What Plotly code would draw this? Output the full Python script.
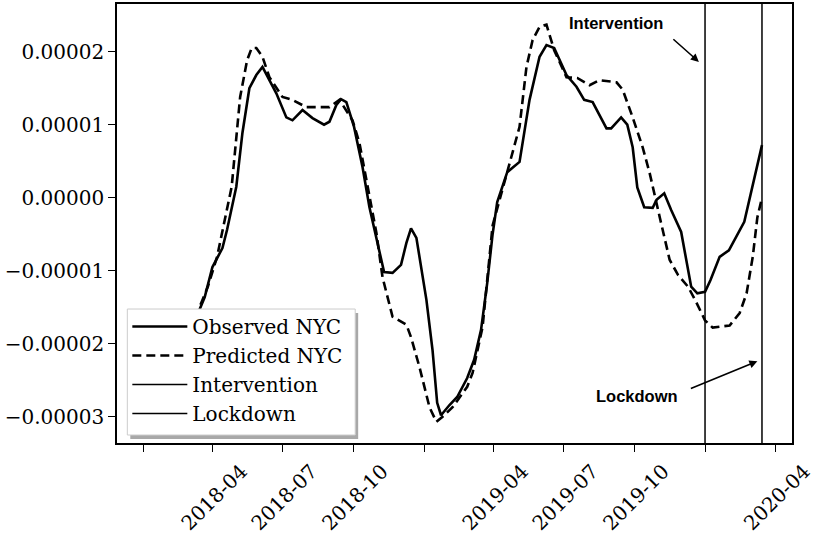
import numpy as np
import plotly.graph_objects as go

# values, in units of 1e-5
obs_dates = ["2018-02-24", "2018-03-22", "2018-04-01", "2018-04-14", "2018-04-20", "2018-05-02",
             "2018-05-10", "2018-05-19", "2018-05-28", "2018-06-05", "2018-06-23", "2018-07-06",
             "2018-07-14", "2018-07-27", "2018-08-09", "2018-08-24", "2018-08-31", "2018-09-09",
             "2018-09-15", "2018-09-22", "2018-10-02", "2018-10-13", "2018-10-22", "2018-10-31",
             "2018-11-10", "2018-11-21", "2018-12-02", "2018-12-09", "2018-12-15", "2018-12-22",
             "2019-01-04", "2019-01-12", "2019-01-18", "2019-01-23", "2019-02-03", "2019-02-13",
             "2019-02-26", "2019-03-07", "2019-03-16", "2019-03-24", "2019-03-31", "2019-04-06",
             "2019-04-19", "2019-05-05", "2019-05-18", "2019-05-31", "2019-06-09", "2019-06-19",
             "2019-07-05", "2019-07-18", "2019-07-28", "2019-08-08", "2019-08-26", "2019-09-01",
             "2019-09-14", "2019-09-22", "2019-09-29", "2019-10-05", "2019-10-14", "2019-10-25",
             "2019-10-30", "2019-11-09", "2019-11-18", "2019-12-01", "2019-12-14", "2019-12-22",
             "2020-01-01", "2020-01-08", "2020-01-20", "2020-02-01", "2020-02-21", "2020-03-15"]
obs_vals = [-2.02, -1.36, -0.95, -0.69, -0.44, 0.15,
            0.89, 1.50, 1.68, 1.79, 1.43, 1.10,
            1.06, 1.20, 1.09, 1.00, 1.04, 1.27,
            1.35, 1.31, 0.97, 0.42, -0.13, -0.54,
            -1.02, -1.03, -0.92, -0.62, -0.42, -0.55,
            -1.40, -2.09, -2.81, -2.98, -2.84, -2.73,
            -2.47, -2.22, -1.81, -1.17, -0.50, -0.06,
            0.35, 0.49, 1.34, 1.93, 2.09, 2.05,
            1.68, 1.52, 1.34, 1.31, 0.95, 0.95,
            1.10, 1.00, 0.69, 0.14, -0.13, -0.14,
            -0.03, 0.06, -0.17, -0.47, -1.22, -1.31,
            -1.29, -1.13, -0.81, -0.72, -0.33, 0.72]

pred_dates = ["2018-02-24", "2018-03-26", "2018-04-07", "2018-04-26", "2018-05-07", "2018-05-16",
              "2018-05-22", "2018-05-28", "2018-06-05", "2018-06-14", "2018-07-01", "2018-07-14",
              "2018-08-01", "2018-08-19", "2018-08-31", "2018-09-13", "2018-09-30", "2018-10-09",
              "2018-10-18", "2018-10-31", "2018-11-08", "2018-11-21", "2018-12-09", "2018-12-15",
              "2018-12-26", "2019-01-08", "2019-01-17", "2019-01-25", "2019-02-07", "2019-02-26",
              "2019-03-05", "2019-03-18", "2019-03-31", "2019-04-19", "2019-05-05", "2019-05-14",
              "2019-05-22", "2019-05-31", "2019-06-09", "2019-06-19", "2019-07-05", "2019-07-19",
              "2019-08-04", "2019-08-17", "2019-09-08", "2019-09-16", "2019-09-29", "2019-10-12",
              "2019-10-21", "2019-11-03", "2019-11-16", "2019-11-27", "2019-12-10", "2019-12-21",
              "2020-01-01", "2020-01-11", "2020-02-02", "2020-02-15", "2020-02-24", "2020-03-03",
              "2020-03-09", "2020-03-15"]
pred_vals = [-2.00, -1.22, -0.81, 0.15, 1.38, 1.88,
             2.05, 2.05, 1.93, 1.65, 1.38, 1.34,
             1.24, 1.24, 1.24, 1.34, 1.06, 0.75,
             0.24, -0.48, -1.09, -1.63, -1.74, -1.91,
             -2.32, -2.87, -3.07, -3.00, -2.87, -2.59,
             -2.40, -1.77, -0.38, 0.35, 0.97, 1.79,
             2.16, 2.34, 2.37, 2.02, 1.65, 1.64,
             1.54, 1.61, 1.58, 1.48, 1.10, 0.69,
             0.34, -0.26, -0.85, -1.06, -1.22, -1.44,
             -1.68, -1.78, -1.75, -1.58, -1.31, -0.81,
             -0.27, 0.00]

intervention_date = "2020-01-01"
lockdown_date = "2020-03-15"

x_tickvals = ["2018-01-01", "2018-04-01", "2018-07-01", "2018-10-01", "2019-01-01", "2019-04-01",
              "2019-07-01", "2019-10-01", "2020-01-01", "2020-04-01"]
x_ticktext = ["", "2018-04", "2018-07", "2018-10", "", "2019-04", "2019-07", "2019-10", "", "2020-04"]
y_tickvals = [-3e-5, -2e-5, -1e-5, 0, 1e-5, 2e-5]
y_ticktext = ["\u22120.00003", "\u22120.00002", "\u22120.00001", "0.00000", "0.00001", "0.00002"]

x_range = ["2017-11-28", "2020-04-23"]
y_range = [-3.36e-5, 2.653e-5]

scale = 1e-5
serif = "DejaVu Serif"

fig = go.Figure()
fig.add_trace(go.Scatter(x=obs_dates, y=np.array(obs_vals) * scale, mode="lines",
                         name="Observed NYC", legendgroup="a",
                         line=dict(color="black", width=2.6)))
fig.add_trace(go.Scatter(x=pred_dates, y=np.array(pred_vals) * scale, mode="lines",
                         name="Predicted NYC", legendgroup="b",
                         line=dict(color="black", width=2.6, dash="9px,5px")))
fig.add_trace(go.Scatter(x=[intervention_date, intervention_date], y=y_range, mode="lines",
                         name="Intervention", legendgroup="c",
                         line=dict(color="black", width=1.5)))
fig.add_trace(go.Scatter(x=[lockdown_date, lockdown_date], y=y_range, mode="lines",
                         name="Lockdown", legendgroup="d",
                         line=dict(color="black", width=1.5)))

axis_common = dict(showline=True, linecolor="black", linewidth=1.5, mirror=True,
                   ticks="outside", ticklen=7, tickwidth=1.3, tickcolor="black",
                   showgrid=False, zeroline=False, automargin=False,
                   tickfont=dict(family=serif, size=20, color="black"))

fig.update_layout(
    width=830, height=543,
    margin=dict(l=117, r=38, t=4, b=100),
    paper_bgcolor="white", plot_bgcolor="white",
    xaxis=dict(range=x_range, tickvals=x_tickvals, ticktext=x_ticktext, tickangle=-45,
               ticklabelshift=29, **axis_common),
    yaxis=dict(range=y_range, tickvals=y_tickvals, ticktext=y_ticktext, **axis_common),
    showlegend=True,
    legend=dict(x=0.0153, y=0.3098, xanchor="left", yanchor="top",
                bgcolor="rgba(0,0,0,0)", borderwidth=0,
                tracegroupgap=0, itemwidth=55,
                font=dict(family=serif, size=20, color="black")),
    shapes=[
        # legend shadow and frame
        dict(type="rect", xref="paper", yref="paper", layer="above",
             x0=0.0197, x1=0.3573, y0=0.0091, y1=0.2961,
             fillcolor="#a8a8a8", line=dict(width=0)),
        dict(type="rect", xref="paper", yref="paper", layer="above",
             x0=0.0153, x1=0.3529, y0=0.0182, y1=0.3052,
             fillcolor="white", line=dict(color="#cccccc", width=1)),
    ],
)

bold = dict(family="Liberation Sans", size=16.5, color="black", weight="bold")
fig.add_annotation(x="2019-09-07", y=2.39e-5, text="Intervention", showarrow=False, font=bold)
fig.add_annotation(x="2019-10-04", y=-2.72e-5, text="Lockdown", showarrow=False, font=bold)
fig.add_annotation(x="2019-12-24", y=1.86e-5, ax=-27, ay=-24, text="", showarrow=True,
                   arrowhead=2, arrowsize=1, arrowwidth=1.6, arrowcolor="black", standoff=0)
fig.add_annotation(x="2020-03-09", y=-2.24e-5, ax=-68, ay=28, text="", showarrow=True,
                   arrowhead=2, arrowsize=1, arrowwidth=1.6, arrowcolor="black", standoff=0)

fig.write_html("out.html", config={"displayModeBar": False},
               post_script="document.body.style.margin='0';")
